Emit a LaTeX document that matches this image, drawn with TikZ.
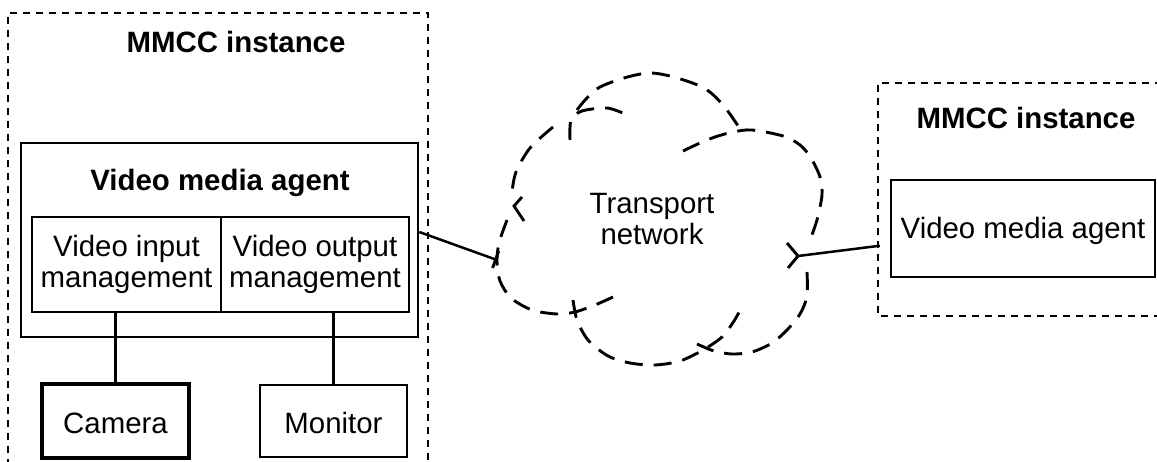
\documentclass[tikz,border=0pt]{standalone}
\usepackage{fontspec}
\setmainfont{Liberation Sans}
\usetikzlibrary{arrows.meta}
\tikzset{
  lbl/.style={font=\fontsize{29.4}{31}\selectfont, align=center, inner sep=0pt},
  ttl/.style={font=\fontsize{29.4}{31}\selectfont\bfseries, inner sep=0pt},
  box/.style={draw, line width=2.5pt, inner sep=0pt},
  border/.style={line width=2.6pt, dash pattern=on 7pt off 6pt},
  wire/.style={line width=2.5pt},
  cloudline/.style={line width=2.9pt, dash pattern=on 18pt off 11pt},
  cloudmark/.style={line width=2.9pt}
}
\begin{document}
\begin{tikzpicture}[x=1pt, y=-1pt]
\useasboundingbox (0,0) rectangle (1157,462);

% ---- left MMCC instance ----
\draw[border] (8,466) -- (8,13) -- (428,13) -- (428,466);
\node[ttl] (mmccL) at (236,42) {MMCC instance};

\node[box, minimum width=397pt, minimum height=194pt] (vmaL) at (219.5,240) {};
\node[ttl] (vmaLt) at (220,183) {Video media agent};

\node[box, minimum width=189pt, minimum height=95pt] (vin) at (126.5,264.5) {};
\node[lbl] at (126.5,264.5) {Video input\\management};
\node[box, minimum width=188pt, minimum height=95pt] (vout) at (315,264.5) {};
\node[lbl] at (315,264.5) {Video output\\management};

\node[box, line width=3.2pt, minimum width=147pt, minimum height=74pt] (cam) at (115.5,421) {};
\node[lbl] at (115.5,423) {Camera};
\node[box, minimum width=147pt, minimum height=72pt] (mon) at (333.5,421) {};
\node[lbl] at (333.5,423) {Monitor};

\draw[wire] (cam.north) -- (cam.north |- vin.south);
\draw[wire] (mon.north) -- (mon.north |- vout.south);

% ---- right MMCC instance ----
\draw[border] (1162,83) -- (878,83) -- (878,316) -- (1162,316);
\node[ttl] (mmccR) at (1026,118) {MMCC instance};
\node[box, minimum width=264pt, minimum height=97pt] (vmaR) at (1023,228.5) {};
\node[lbl] at (1023,231) {Video media agent};

% ---- transport network cloud ----
\coordinate (cl) at (497,260);
\coordinate (cr) at (798,256);
\node[lbl] (tn) at (652,219) {Transport\\network};

\draw[cloudline] plot[smooth] coordinates {(577,110) (600,87) (650,73) (700,86) (723,105) (742,132)};
\draw[cloudline] plot[smooth] coordinates {(570,140) (571,120) (582,111) (607,108) (625,114)};
\draw[cloudline] plot[smooth] coordinates {(553,127) (530,148) (516,172) (512,192)};
\draw[cloudmark] (522,197) -- (514,206) -- (524,221);
\draw[cloudline] plot[smooth] coordinates {(507,220) (499,243) (497,262) (500,281) (511,298) (532,310) (557,314) (575,312) (595,305) (613,297)};
\draw[cloudline] plot[smooth] coordinates {(573,300) (577,320) (588,340) (608,356) (630,363) (655,365) (680,361) (703,350) (722,337) (734,321) (743,305)};
\draw[cloudline] plot[smooth] coordinates {(807,272) (807,296) (800,314) (787,330) (772,343) (752,352) (732,354) (714,351) (697,344)};
\draw[cloudmark] (787,243) -- (cr) -- (788,268);
\draw[cloudline] plot[smooth] coordinates {(683,151) (700,143) (715,137) (733,132) (752,130) (783,136) (800,145) (811,158) (820,177) (822,195) (817,220) (810,240)};

% ---- links ----
\draw[wire, -{Bar[width=18pt, line width=2.9pt]}] ([yshift=8pt]vmaL.east) -- (cl);
\draw[wire, shorten <=10pt] ([yshift=-16pt]vmaR.west) -- (cr);
\end{tikzpicture}
\end{document}
